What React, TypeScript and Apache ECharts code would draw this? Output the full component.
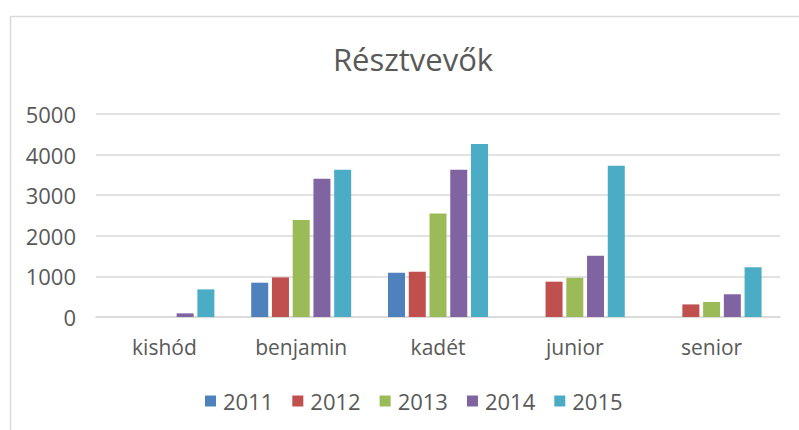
import React, { useEffect, useRef } from "react";
import * as echarts from "echarts";

const categories = ["kishód", "benjamin", "kadét", "junior", "senior"];
const years = ["2011", "2012", "2013", "2014", "2015"];
const v2011 = [0, 845, 1090, 0, 0];
const v2012 = [0, 975, 1115, 870, 310];
const v2013 = [0, 2390, 2550, 965, 370];
const v2014 = [90, 3405, 3625, 1510, 560];
const v2015 = [680, 3625, 4260, 3725, 1225];
const seriesValues = [v2011, v2012, v2013, v2014, v2015];
const colors = ["#4F81BD", "#C0504D", "#9BBB59", "#8064A2", "#4BACC6"];
const yTicks = { min: 0, max: 5000, interval: 1000 };

const FONT = "'Open Sans', Lato, sans-serif";

export default function App() {
  const ref = useRef<HTMLDivElement>(null);
  useEffect(() => {
    if (!ref.current) return;
    const chart = echarts.init(ref.current, undefined, { renderer: "svg" });
    chart.setOption({
      animation: false,
      backgroundColor: "#ffffff",
      textStyle: { fontFamily: FONT },
      title: {
        text: "Résztvevők",
        left: 408,
        textAlign: "center",
        top: 38,
        textStyle: { fontFamily: FONT, fontSize: 31, fontWeight: "normal", color: "#595959" },
      },
      graphic: [
        {
          type: "rect",
          left: 8,
          top: 14,
          shape: { width: 820, height: 440 },
          style: { fill: "none", stroke: "#d9d9d9", lineWidth: 1.5 },
          silent: true,
          z: -1,
        },
      ],
      legend: {
        bottom: 13,
        left: 200,
        icon: "rect",
        itemWidth: 11,
        itemHeight: 11,
        itemGap: 19,
        data: years,
        textStyle: { fontFamily: FONT, fontSize: 22, color: "#595959", padding: [0, 0, 0, 2] },
      },
      grid: { left: 96, right: 19, top: 114, bottom: 113, containLabel: false },
      xAxis: {
        type: "category",
        data: categories,
        axisLine: { lineStyle: { color: "#d9d9d9", width: 1.5 } },
        axisTick: { show: false },
        axisLabel: { fontFamily: FONT, fontSize: 21, color: "#595959", margin: 19 },
      },
      yAxis: {
        type: "value",
        min: yTicks.min,
        max: yTicks.max,
        interval: yTicks.interval,
        axisLine: { show: false },
        axisTick: { show: false },
        splitLine: { lineStyle: { color: "#d9d9d9", width: 1.5 } },
        axisLabel: {
          fontFamily: FONT,
          fontSize: 22,
          color: "#595959",
          margin: 20,
          formatter: (v: number) => String(v),
        },
      },
      series: years.map((y, i) => ({
        name: y,
        type: "bar",
        data: seriesValues[i],
        barWidth: 17,
        barGap: "22%",
        itemStyle: { color: colors[i] },
      })),
    });
    return () => chart.dispose();
  }, []);
  return (
    <div
      ref={ref}
      style={{ position: "absolute", left: 0, top: 0, width: 799, height: 430 }}
    />
  );
}
